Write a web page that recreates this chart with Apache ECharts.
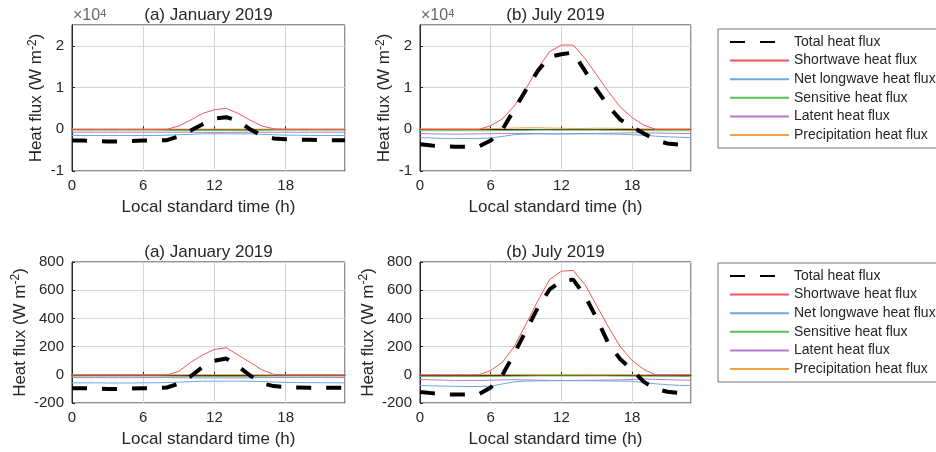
<!DOCTYPE html>
<html>
<head>
<meta charset="utf-8">
<script src="https://cdn.jsdelivr.net/npm/echarts@6/dist/echarts.min.js"></script>
<style>
    html, body { margin: 0; padding: 0; background: #fff; }
    #chart { width: 936px; height: 452px; }
</style>
</head>
<body>
<div id="chart"></div>
<script>
    // hours of the day
    var hours = [0, 1, 2, 3, 4, 5, 6, 7, 8, 9, 10, 11, 12, 13, 14, 15, 16, 17, 18, 19, 20, 21, 22, 23];
    var names = ['Total heat flux', 'Shortwave heat flux', 'Net longwave heat flux',
        'Sensitive heat flux', 'Latent heat flux', 'Precipitation heat flux'];
    var colors = ['#000000', '#f2555a', '#6fa8dc', '#5cbf5c', '#b57ac9', '#f9a040'];
    var xTicks = [0, 6, 12, 18];

    // top row (x10^4 scale)
    var janTopTotal = [-2700, -2700, -2800, -2900, -2900, -2800, -2700, -2700, -2600, -1700, -300, 1200, 2600, 2900, 2000, 0, -1500, -2200, -2400, -2500, -2500, -2600, -2600, -2600];
    var janTopShort = [0, 0, 0, 0, 0, 0, 0, 0, 0, 800, 2200, 3800, 4700, 5000, 3800, 2200, 800, 100, 0, 0, 0, 0, 0, 0];
    var janTopLong = [-1500, -1500, -1500, -1500, -1500, -1500, -1500, -1500, -1400, -1300, -1200, -1100, -1100, -1100, -1100, -1100, -1200, -1300, -1400, -1400, -1500, -1500, -1500, -1500];
    var janTopSens = [-200, -200, -200, -200, -200, -200, -200, -200, -250, -300, -300, -300, -300, -300, -300, -300, -250, -200, -200, -200, -200, -200, -200, -200];
    var janTopLat = [-700, -700, -700, -700, -700, -700, -700, -700, -700, -700, -700, -750, -750, -750, -700, -700, -700, -700, -700, -700, -700, -700, -700, -700];
    var janTopPrec = [50, 50, 50, 50, 50, 50, 50, 50, 50, 50, 50, 50, 50, 50, 50, 50, 50, 50, 50, 50, 50, 50, 50, 50];

    var julTopTotal = [-3600, -3900, -4100, -4200, -4200, -4100, -2700, 0, 4700, 9500, 14000, 17400, 18000, 18400, 14000, 9500, 5500, 2300, 600, -1000, -2600, -3400, -3700, -3800];
    var julTopShort = [0, 0, 0, 0, 0, 0, 850, 2500, 5600, 9800, 14600, 18600, 20200, 20200, 17000, 13000, 9000, 5300, 2800, 1000, 0, 0, 0, 0];
    var julTopLong = [-2000, -2100, -2200, -2200, -2200, -2200, -2100, -1700, -1300, -1150, -1100, -1100, -1100, -1100, -1100, -1100, -1150, -1200, -1300, -1450, -1650, -1800, -1900, -2000];
    var julTopSens = [-350, -350, -350, -350, -350, -350, -350, -300, -250, -250, -200, -200, -200, -200, -200, -200, -250, -250, -300, -300, -350, -350, -350, -350];
    var julTopLat = [-1000, -1100, -1150, -1150, -1150, -1100, -1050, -1000, -1000, -1000, -1050, -1100, -1100, -1050, -1000, -1000, -950, -900, -850, -850, -900, -950, -1000, -1000];
    var julTopPrec = [100, 100, 100, 100, 100, 100, 150, 250, 300, 350, 350, 300, 250, 200, 200, 250, 250, 200, 150, 100, 100, 100, 100, 100];

    // bottom row (W m-2)
    var janBotTotal = [-95, -95, -97, -100, -100, -98, -96, -95, -90, -62, -10, 55, 100, 115, 60, -5, -60, -80, -88, -90, -92, -92, -92, -92];
    var janBotShort = [0, 0, 0, 0, 0, 0, 0, 0, 0, 25, 88, 140, 180, 192, 140, 88, 35, 3, 0, 0, 0, 0, 0, 0];
    var janBotLong = [-57, -57, -57, -58, -58, -58, -57, -57, -55, -52, -48, -46, -45, -45, -45, -46, -48, -51, -54, -55, -56, -56, -57, -57];
    var janBotSens = [-9, -9, -9, -9, -9, -9, -9, -9, -10, -11, -12, -12, -12, -12, -12, -11, -10, -9, -9, -9, -9, -9, -9, -9];
    var janBotLat = [-20, -20, -20, -20, -20, -20, -20, -20, -20, -21, -22, -22, -22, -22, -22, -21, -20, -20, -20, -20, -20, -20, -20, -20];
    var janBotPrec = [1, 1, 1, 1, 1, 1, 1, 1, 1, 1, 1, 1, 1, 1, 1, 1, 1, 1, 1, 1, 1, 1, 1, 1];

    var julBotTotal = [-122, -130, -138, -140, -140, -138, -90, 0, 150, 315, 475, 605, 665, 675, 560, 400, 220, 110, 35, -50, -100, -120, -128, -125];
    var julBotShort = [0, 0, 0, 0, 0, 0, 30, 90, 200, 360, 525, 675, 735, 740, 640, 490, 338, 198, 102, 38, 0, 0, 0, 0];
    var julBotLong = [-76, -78, -80, -82, -83, -83, -80, -65, -50, -45, -43, -42, -42, -42, -42, -43, -44, -45, -46, -55, -64, -70, -75, -76];
    var julBotSens = [-12, -12, -12, -12, -12, -12, -12, -11, -10, -9, -8, -8, -8, -8, -8, -8, -8, -9, -10, -10, -11, -11, -12, -12];
    var julBotLat = [-33, -36, -38, -40, -40, -40, -38, -36, -35, -36, -38, -40, -40, -40, -39, -38, -37, -36, -33, -30, -32, -35, -37, -38];
    var julBotPrec = [1, 1, 1, 1, 1, 1, 1, 2, 2, 3, 3, 3, 3, 3, 2, 2, 2, 2, 1, 1, 1, 1, 1, 1];

    var panels = [
        [janTopTotal, janTopShort, janTopLong, janTopSens, janTopLat, janTopPrec],
        [julTopTotal, julTopShort, julTopLong, julTopSens, julTopLat, julTopPrec],
        [janBotTotal, janBotShort, janBotLong, janBotSens, janBotLat, janBotPrec],
        [julBotTotal, julBotShort, julBotLong, julBotSens, julBotLat, julBotPrec]
    ];
    var titles = ['(a) January 2019', '(b) July 2019', '(a) January 2019', '(b) July 2019'];

    var font = 'Liberation Sans, Arial, sans-serif';
    var ink = '#262626';
    var grids = [
        {left: 72, top: 25, width: 273, height: 146},
        {left: 420, top: 25, width: 271, height: 146},
        {left: 72, top: 262, width: 273, height: 141},
        {left: 420, top: 262, width: 271, height: 141}
    ];

    function pairs(vals) {
        return hours.map(function (h, i) { return [h, vals[i]]; });
    }

    var xAxes = [], yAxes = [], series = [], graphics = [];
    grids.forEach(function (g, k) {
        g.show = true;
        g.borderColor = ink;
        g.borderWidth = 1;
        g.outerBoundsMode = 'none';
        var top = k < 2;
        xAxes.push({
            gridIndex: k, type: 'value', min: hours[0], max: hours[hours.length - 1], interval: xTicks[1] - xTicks[0],
            name: 'Local standard time (h)', nameLocation: 'middle', nameGap: 28,
            nameTextStyle: {fontSize: 17, color: ink, fontFamily: font},
            axisLine: {show: true, lineStyle: {color: ink}},
            axisTick: {show: true, inside: true, length: 3, lineStyle: {color: ink}},
            axisLabel: {fontSize: 15, color: ink, fontFamily: font, margin: 7, showMaxLabel: false},
            splitLine: {show: true, lineStyle: {color: '#d4d4d4'}}
        });
        yAxes.push({
            gridIndex: k, type: 'value',
            min: top ? -10000 : -200, max: top ? 25000 : 800, interval: top ? 10000 : 200,
            name: 'Heat flux (W m{sup|-2})', nameLocation: 'middle', nameGap: top ? 17 : 31,
            nameTextStyle: {fontSize: 17, color: ink, fontFamily: font, lineHeight: 20,
                rich: {sup: {fontSize: 12, color: ink, fontFamily: font, verticalAlign: 'top', lineHeight: 18}}},
            axisLine: {show: true, lineStyle: {color: ink}},
            axisTick: {show: true, inside: true, length: 3, lineStyle: {color: ink}},
            axisLabel: {fontSize: 15, color: ink, fontFamily: font, margin: 8, showMaxLabel: !top,
                formatter: function (v) { return top ? String(v / 10000) : String(v); }},
            splitLine: {show: true, lineStyle: {color: '#d4d4d4'}}
        });
        // coloured components first, total on top
        for (var s = 5; s >= 0; s--) {
            series.push({
                name: names[s], type: 'line', xAxisIndex: k, yAxisIndex: k,
                data: pairs(panels[k][s]), symbol: 'none', silent: true, z: s === 0 ? 5 : 3,
                lineStyle: s === 0 ? {color: colors[0], width: 4, type: [15, 15]} : {color: colors[s], width: 1},
                itemStyle: {color: colors[s]}
            });
        }
        graphics.push({
            type: 'text', x: g.left + g.width / 2, y: g.top - 10,
            style: {text: titles[k], fontSize: 17, fontFamily: font, fill: ink, align: 'center', verticalAlign: 'middle'}
        });
        if (top) {
            graphics.push({
                type: 'text', x: g.left + 1, y: g.top - 1,
                style: {text: '×10{s|4}', fontSize: 16, fontFamily: font, fill: '#666', align: 'left', verticalAlign: 'bottom',
                    rich: {s: {fontSize: 11, fill: '#666', verticalAlign: 'top', fontFamily: font}}}
            });
        }
    });

    function legendAt(topPx) {
        return {
            orient: 'vertical', left: 718, top: topPx, data: names,
            itemWidth: 59, itemHeight: 14, itemGap: 4.6,
            padding: [6, 40, 6, 11], borderColor: '#777', borderWidth: 1,
            selectedMode: false,
            itemStyle: {opacity: 0, borderWidth: 0},
            textStyle: {fontSize: 14, color: ink, fontFamily: font}
        };
    }

    var myChart = echarts.init(document.getElementById('chart'), null, {renderer: 'canvas'});
    var option = {
        backgroundColor: '#fff',
        animation: false,
        grid: grids,
        xAxis: xAxes,
        yAxis: yAxes,
        legend: [legendAt(29), legendAt(263)],
        graphic: graphics,
        series: series
    };
    myChart.setOption(option);
</script>
</body>
</html>
